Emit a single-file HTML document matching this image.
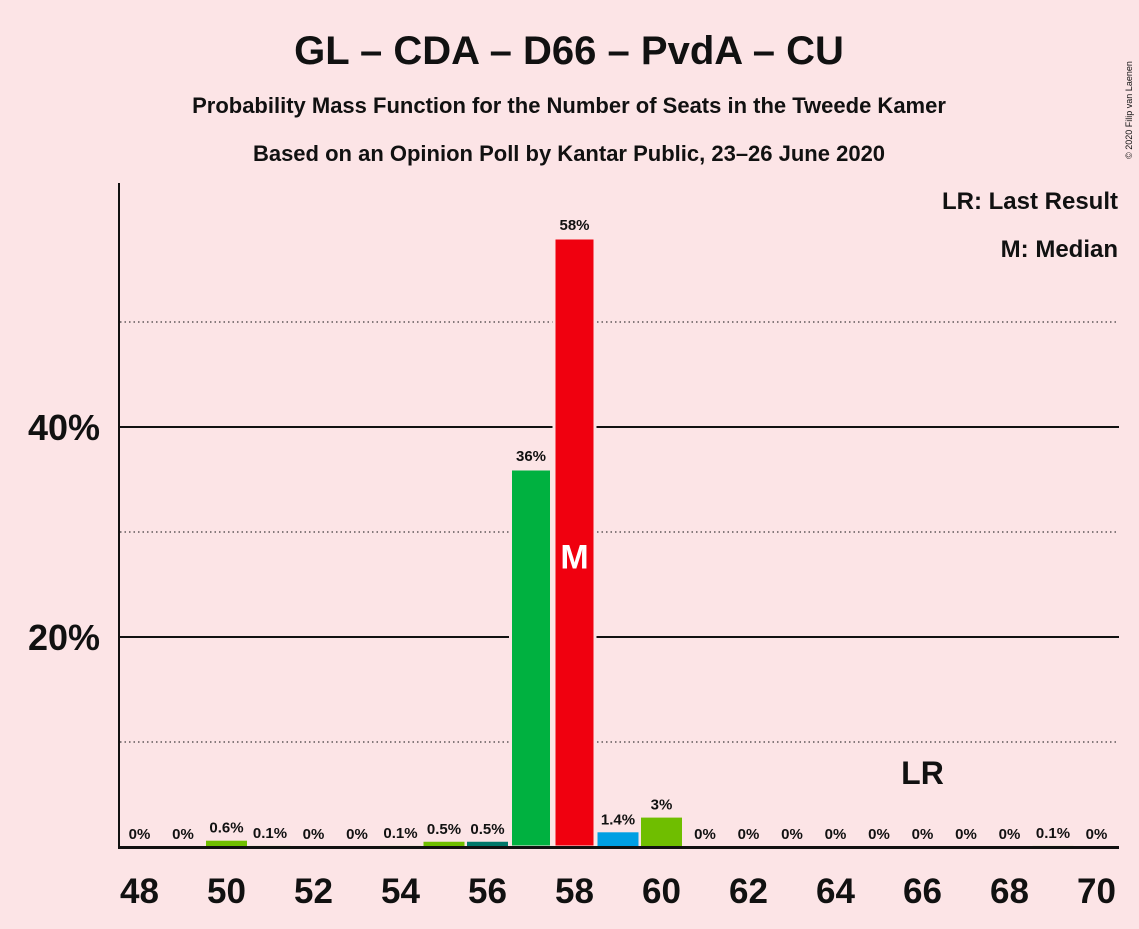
<!DOCTYPE html>
<html><head><meta charset="utf-8"><style>
body{margin:0;background:#fce4e6;}
svg text{font-family:"Liberation Sans",sans-serif;font-weight:bold;fill:#111;}
</style></head><body>
<svg width="1139" height="924" viewBox="0 0 1139 924" xmlns="http://www.w3.org/2000/svg">
<rect width="1139" height="924" fill="#fce4e6"/>
<text x="569" y="64" font-size="40" text-anchor="middle">GL – CDA – D66 – PvdA – CU</text>
<text x="569" y="113" font-size="22" text-anchor="middle">Probability Mass Function for the Number of Seats in the Tweede Kamer</text>
<text x="569" y="161" font-size="22" text-anchor="middle">Based on an Opinion Poll by Kantar Public, 23–26 June 2020</text>
<text x="1132" y="110" font-size="9" transform="rotate(-90 1132 110)" text-anchor="middle" style="font-weight:normal">© 2020 Filip van Laenen</text>
<text x="1118" y="209" font-size="24" text-anchor="end">LR: Last Result</text>
<text x="1118" y="257" font-size="24" text-anchor="end">M: Median</text>
<g id="grid"></g>
<g id="bars"></g>
<line x1="119" y1="183" x2="119" y2="848" stroke="#111" stroke-width="2"/>
<line x1="118" y1="847.5" x2="1119" y2="847.5" stroke="#111" stroke-width="3"/>
<g id="xt"></g>
</svg>
<script>
const seats=[48,49,50,51,52,53,54,55,56,57,58,59,60,61,62,63,64,65,66,67,68,69,70];
const probs=[0,0,0.6,0.1,0,0,0.1,0.5,0.5,36,58,1.4,2.8,0,0,0,0,0,0,0,0,0.1,0];
const labels=["0%","0%","0.6%","0.1%","0%","0%","0.1%","0.5%","0.5%","36%","58%","1.4%","3%","0%","0%","0%","0%","0%","0%","0%","0%","0.1%","0%"];
const colors={50:"#6fbe00",51:"#6fbe00",54:"#6fbe00",55:"#6fbe00",56:"#00786a",57:"#00b140",58:"#f0000f",59:"#009fe3",60:"#6fbe00",69:"#6fbe00"};
const yTicks=[20,40];
const yDotted=[10,30,50];
const median=58, lastResult=66;
const NS="http://www.w3.org/2000/svg";
const X=s=>139.5+(s-48)*43.5;
const Y=p=>847-p*10.5;
function mk(t,a,p){const e=document.createElementNS(NS,t);for(const k in a)e.setAttribute(k,a[k]);p.appendChild(e);return e;}
const grid=document.getElementById('grid'),bars=document.getElementById('bars'),xt=document.getElementById('xt');
yDotted.forEach(v=>{const l=mk('line',{x1:120,x2:1119,y1:Y(v),y2:Y(v),stroke:'#111','stroke-width':1,'stroke-dasharray':'1.5 3'},grid);

});
yTicks.forEach(v=>{const l=mk('line',{x1:120,x2:1119,y1:Y(v),y2:Y(v),stroke:'#111','stroke-width':2},grid);


const t=mk('text',{x:100,y:Y(v)+13,'font-size':36,'text-anchor':'end'},grid);t.textContent=v+'%';

});
seats.forEach((s,i)=>{const p=probs[i];const h=p*10.5;
if(p>0){const r=mk('rect',{x:X(s)-20.5,y:Y(p),width:41,height:h,fill:colors[s]||'#6fbe00',stroke:p>5?'#fce4e6':'none','stroke-width':p>5?3:0},bars);

}
const t=mk('text',{x:X(s),y:Y(p)-8,'font-size':15,'text-anchor':'middle'},bars);t.textContent=labels[i];


if(s%2===0){const k=mk('text',{x:X(s),y:903,'font-size':35,'text-anchor':'middle'},xt);k.textContent=s;

}
if(s===median){const m=mk('text',{x:X(s),y:Y(p/2)+26,'font-size':34,'text-anchor':'middle',style:'fill:#fff'},bars);m.textContent='M';

}
if(s===lastResult){const m=mk('text',{x:X(s),y:784,'font-size':32,'text-anchor':'middle'},bars);m.textContent='LR';

}
});
</script>
</body></html>
